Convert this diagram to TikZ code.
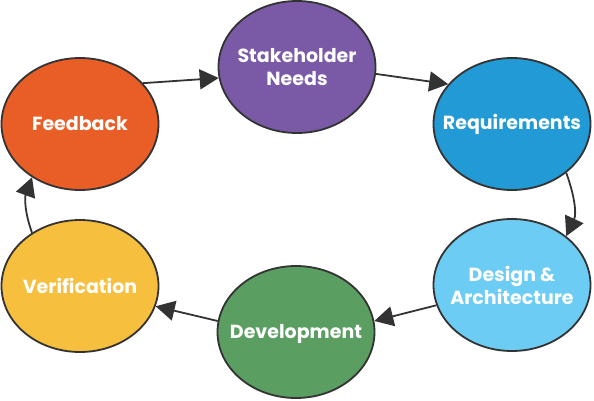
\documentclass[tikz,border=0pt]{standalone}
\usepackage{fontspec}
\setmainfont{Poppins}[UprightFont={* Bold}]
\usetikzlibrary{shapes.geometric,arrows.meta}
\definecolor{cfeed}{HTML}{E95E27}
\definecolor{cstake}{HTML}{7A5AA6}
\definecolor{creq}{HTML}{219AD6}
\definecolor{cdes}{HTML}{6DCCF4}
\definecolor{cdev}{HTML}{5A9E62}
\definecolor{cver}{HTML}{F6BF3D}
\definecolor{cline}{HTML}{333333}
\tikzset{
  ell/.style={ellipse, draw=cline, line width=1.8pt, minimum width=157pt, minimum height=132pt, inner sep=0pt},
  lbl/.style={text=white, font=\fontsize{19}{23}\selectfont, align=center},
  conn/.style={draw=cline, line width=1.8pt, -{Triangle[length=19pt,width=20pt]}}
}
\begin{document}
\begin{tikzpicture}[x=1pt,y=-1pt]
\useasboundingbox (0,0) rectangle (594,400);
\node[ell, fill=cstake] (stake) at (297,67) {};
\node[ell, fill=creq] (req) at (512,124) {};
\node[ell, fill=cdes] (des) at (512,285) {};
\node[ell, fill=cdev] (dev) at (296,332) {};
\node[ell, fill=cver] (ver) at (80,286) {};
\node[ell, fill=cfeed] (feed) at (80,124) {};
\node[lbl] (tstake) at (stake) {Stakeholder\\Needs};
\node[lbl] (treq) at (req) {Requirements};
\node[lbl] (tdes) at (des) {Design \&\\Architecture};
\node[lbl] (tdev) at ([yshift=-2pt]dev.center) {Development};
\node[lbl] (tver) at (ver) {Verification};
\node[lbl] (tfeed) at (feed) {Feedback};
\draw[conn] (feed.33) -- (stake.188);
\draw[conn] (stake.-5) -- (req.148);
\draw[conn] (req.-42) to[out=-70,in=65] (des.42);
\draw[conn] (des.195) -- (dev.8);
\draw[conn] (dev.172) -- (ver.-15);
\draw[conn] (ver.132) to[out=110,in=250] (feed.228);
\end{tikzpicture}
\end{document}
